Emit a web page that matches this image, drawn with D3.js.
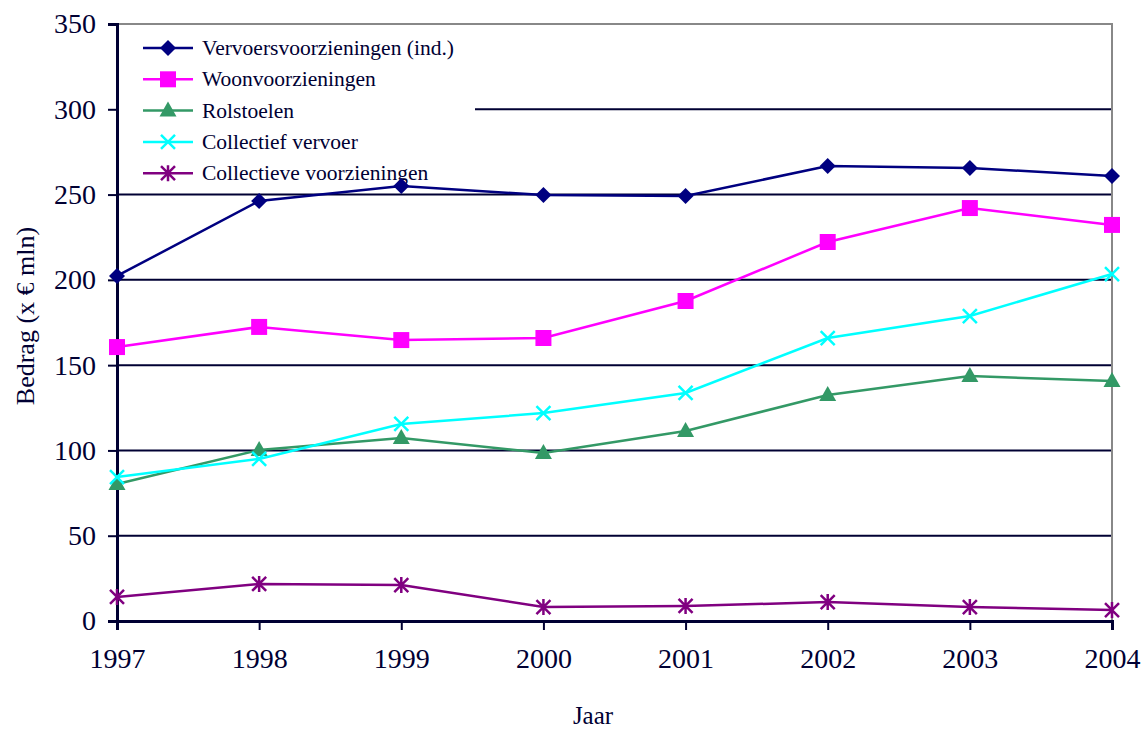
<!DOCTYPE html>
<html lang="nl">
<head>
<meta charset="UTF-8">
<title>Bedrag per jaar</title>
<script src="https://d3js.org/d3.v7.min.js"></script>
<style>
  body { margin: 0; background: #fff; }
  svg text { font-family: "Liberation Serif", "Times New Roman", serif; fill: #000033; }
</style>
</head>
<body>
<svg id="chart" width="1146" height="729"></svg>
<script>
// data
var years = [1997, 1998, 1999, 2000, 2001, 2002, 2003, 2004];
var vervoersvoorzieningen = [202.3, 246.2, 255.0, 249.7, 249.2, 266.7, 265.6, 260.9];
var woonvoorzieningen = [160.6, 172.4, 164.7, 165.9, 187.6, 222.2, 242.1, 232.2];
var rolstoelen = [80.3, 100.3, 107.3, 98.5, 111.4, 132.5, 143.6, 140.7];
var collectiefVervoer = [84.4, 95.0, 115.5, 121.9, 133.7, 165.9, 178.8, 203.4];
var collectieveVoorzieningen = [14.1, 21.7, 21.1, 8.2, 8.8, 11.1, 8.2, 6.4];
var yTicks = [0, 50, 100, 150, 200, 250, 300, 350];

var series = [
  { name: "Vervoersvoorzieningen (ind.)", values: vervoersvoorzieningen, color: "#000080", marker: "diamond" },
  { name: "Woonvoorzieningen", values: woonvoorzieningen, color: "#FF00FF", marker: "square" },
  { name: "Rolstoelen", values: rolstoelen, color: "#339966", marker: "triangle" },
  { name: "Collectief vervoer", values: collectiefVervoer, color: "#00FFFF", marker: "x" },
  { name: "Collectieve voorzieningen", values: collectieveVoorzieningen, color: "#800080", marker: "star" }
];

var svg = d3.select("#chart");
var plotLeft = 117, plotRight = 1112, plotTop = 24, plotBottom = 621;
var axisColor = "#000033";

var x = d3.scaleLinear().domain([1997, 2004]).range([plotLeft, plotRight]);
var y = d3.scaleLinear().domain([0, 350]).range([plotBottom, plotTop]);

// plot border (top + right, grey)
svg.append("path")
  .attr("d", "M" + plotLeft + "," + plotTop + "H" + plotRight + "V" + plotBottom)
  .attr("fill", "none")
  .attr("stroke", "#888")
  .attr("stroke-width", 2);

// gridlines
svg.append("g").selectAll("line")
  .data(yTicks.filter(function(d) { return d > 0 && d < 350; }))
  .enter().append("line")
  .attr("x1", plotLeft).attr("x2", plotRight - 1)
  .attr("y1", function(d) { return y(d); })
  .attr("y2", function(d) { return y(d); })
  .attr("stroke", axisColor)
  .attr("stroke-width", 2);

// legend background (white box, no border) - sits over the gridline
var legend = svg.append("g");
legend.append("rect")
  .attr("x", plotLeft + 2).attr("y", 30)
  .attr("width", 475 - plotLeft - 2).attr("height", 150)
  .attr("fill", "#fff");

// y axis
var yAxis = svg.append("g")
  .attr("transform", "translate(" + plotLeft + ",0)")
  .call(d3.axisLeft(y).tickValues(yTicks).tickSize(9).tickPadding(12));
yAxis.attr("font-family", null);
yAxis.select(".domain").attr("stroke", axisColor).attr("stroke-width", 3);
yAxis.selectAll(".tick line").attr("stroke", axisColor).attr("stroke-width", 2);
yAxis.selectAll(".tick text")
  .attr("font-size", "28px")
  .attr("fill", axisColor);

// x axis
var xAxis = svg.append("g")
  .attr("transform", "translate(0," + plotBottom + ")")
  .call(d3.axisBottom(x).tickValues(years).tickFormat(d3.format("d")).tickSize(9).tickPadding(18));
xAxis.attr("font-family", null);
xAxis.select(".domain").attr("stroke", axisColor).attr("stroke-width", 3);
xAxis.selectAll(".tick line").attr("stroke", axisColor).attr("stroke-width", 2);
xAxis.selectAll(".tick text")
  .attr("font-size", "28px")
  .attr("fill", axisColor);

// axis titles
svg.append("text")
  .attr("x", 593).attr("y", 724)
  .attr("text-anchor", "middle")
  .attr("font-size", "25px")
  .text("Jaar");

svg.append("text")
  .attr("transform", "translate(34,316) rotate(-90)")
  .attr("text-anchor", "middle")
  .attr("font-size", "26px")
  .text("Bedrag (x € mln)");

// marker shapes
function markerPath(type) {
  if (type === "diamond") return "M0,-8L8,0L0,8L-8,0Z";
  if (type === "square") return "M-8,-8H8V8H-8Z";
  if (type === "triangle") return "M0,-9L8.5,6H-8.5Z";
  if (type === "x") return "M-7,-7L7,7M-7,7L7,-7";
  return "M-7,-7L7,7M-7,7L7,-7M0,-8V8";
}
function drawMarker(g, s) {
  var filled = s.marker !== "x" && s.marker !== "star";
  g.append("path")
    .attr("d", markerPath(s.marker))
    .attr("fill", filled ? s.color : "none")
    .attr("stroke", s.color)
    .attr("stroke-width", filled ? 0 : 2.5);
}

// legend entries
series.forEach(function(s, i) {
  var ly = 48 + i * 31.3;
  var row = legend.append("g");
  row.append("line")
    .attr("x1", 143).attr("x2", 193)
    .attr("y1", ly).attr("y2", ly)
    .attr("stroke", s.color)
    .attr("stroke-width", 2.5);
  var m = row.append("g").attr("transform", "translate(168," + ly + ")");
  drawMarker(m, s);
  row.append("text")
    .attr("x", 202).attr("y", ly + 7)
    .attr("font-size", "21.5px")
    .text(s.name);
});

var line = d3.line()
  .x(function(d, i) { return x(years[i]); })
  .y(function(d) { return y(d); });

series.forEach(function(s) {
  svg.append("path")
    .datum(s.values)
    .attr("d", line)
    .attr("fill", "none")
    .attr("stroke", s.color)
    .attr("stroke-width", 2.5);

  s.values.forEach(function(v, i) {
    var g = svg.append("g")
      .attr("transform", "translate(" + x(years[i]) + "," + y(v) + ")");
    drawMarker(g, s);
  });
});
</script>
</body>
</html>
